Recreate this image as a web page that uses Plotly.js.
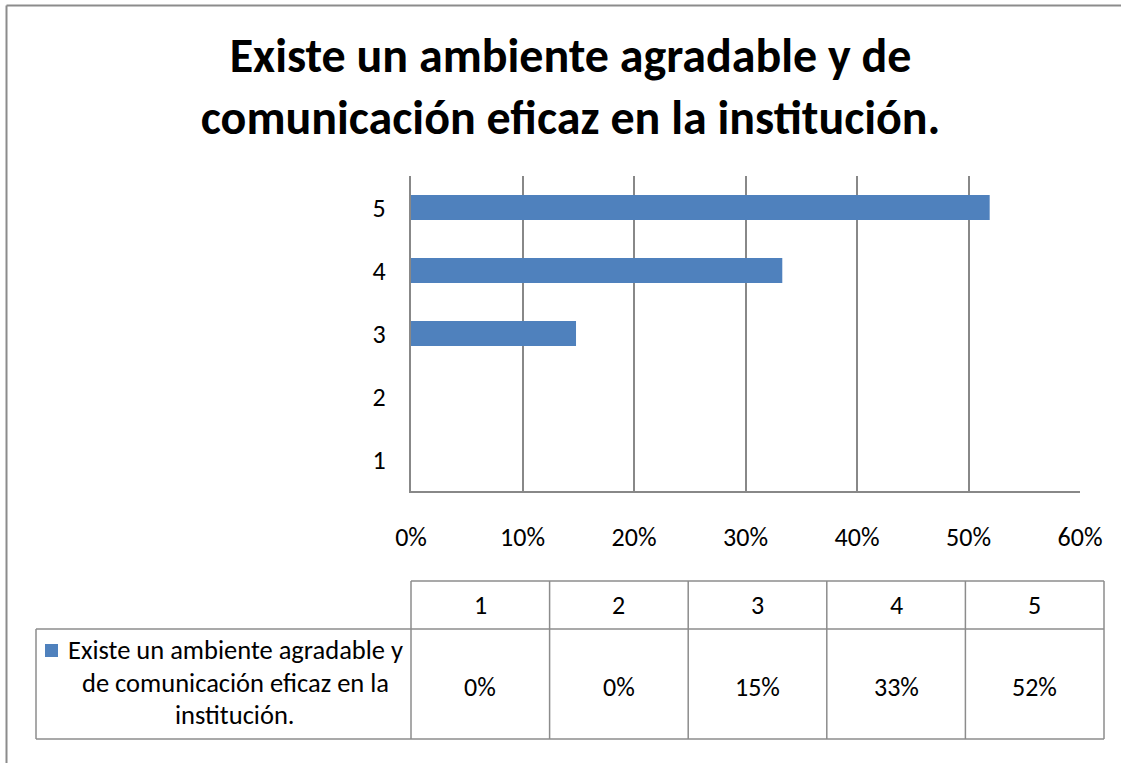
<!DOCTYPE html>
<html>
<head>
<meta charset="utf-8">
<script src="https://cdn.plot.ly/plotly-3.0.1.min.js"></script>
<style>
  html, body { margin: 0; padding: 0; background: #ffffff; }
  #chart { width: 1121px; height: 763px; }
</style>
</head>
<body>
<div id="chart"></div>
<script>
// ---- data ----
const categories = ['1', '2', '3', '4', '5'];
const values = [0, 0, 0.148, 0.333, 0.519];
const seriesName = 'Existe un ambiente agradable y de comunicación eficaz en la institución.';
const legendLines = ['Existe un ambiente agradable y', 'de comunicación eficaz en la', 'institución.'];
const chartTitle = 'Existe un ambiente agradable y de<br>comunicación eficaz en la institución.';
const xTickVals = [0, 0.1, 0.2, 0.3, 0.4, 0.5, 0.6];

// ---- layout helpers (pixel -> paper) ----
const W = 1121, H = 763;
const px = v => v / W;
const py = v => 1 - v / H;
const FONT = 'Carlito, Lato, "Open Sans", sans-serif';
const GRID = '#888888';
const BORDER = '#8c8c8c';
const BLUE = '#4F81BD';

const plotL = 411, plotR = 1080, plotT = 176, plotB = 491;
const tabL = 411, tabR = 1104, tabTop = 581, tabMid = 629, tabBot = 739, legL = 36;

const shapes = [];
const annotations = [];

// outer chart border (left and top visible)
shapes.push({type: 'line', xref: 'paper', yref: 'paper', x0: px(6.5), x1: px(1130), y0: py(5.5), y1: py(5.5), line: {color: BORDER, width: 2}});
shapes.push({type: 'line', xref: 'paper', yref: 'paper', x0: px(6.5), x1: px(6.5), y0: py(5.5), y1: py(770), line: {color: BORDER, width: 2}});

// data table
const colW = (tabR - tabL) / categories.length;
const tline = (x0, y0, x1, y1) => shapes.push({type: 'line', xref: 'paper', yref: 'paper', x0: px(x0), x1: px(x1), y0: py(y0), y1: py(y1), line: {color: BORDER, width: 1.5}});
tline(tabL, tabTop, tabR, tabTop);
tline(legL, tabMid, tabR, tabMid);
tline(legL, tabBot, tabR, tabBot);
tline(legL, tabMid, legL, tabBot);
for (let i = 0; i <= categories.length; i++) {
  const x = tabL + i * colW;
  tline(x, tabTop, x, tabBot);
}
categories.forEach((c, i) => {
  const cx = tabL + (i + 0.5) * colW;
  annotations.push({xref: 'paper', yref: 'paper', x: px(cx), y: py(605), text: c, showarrow: false,
    xanchor: 'center', yanchor: 'middle', font: {family: FONT, size: 26, color: '#000'}});
  annotations.push({xref: 'paper', yref: 'paper', x: px(cx), y: py(687), text: Math.round(values[i] * 100) + '%', showarrow: false,
    xanchor: 'center', yanchor: 'middle', font: {family: FONT, size: 26, color: '#000'}});
});

// legend key + series name in table
shapes.push({type: 'rect', xref: 'paper', yref: 'paper', x0: px(45), x1: px(58), y0: py(644), y1: py(657), fillcolor: BLUE, line: {width: 0}});
legendLines.forEach((t, i) => {
  annotations.push({xref: 'paper', yref: 'paper', x: px(235), y: py(650 + i * 32.5), text: t, showarrow: false,
    xanchor: 'center', yanchor: 'middle', font: {family: FONT, size: 26.5, color: '#000'}});
});

const trace = {
  type: 'bar',
  orientation: 'h',
  name: seriesName,
  y: categories,
  x: values,
  marker: {color: BLUE, line: {width: 0}},
  hoverinfo: 'skip'
};

const layout = {
  width: W, height: H,
  margin: {l: 0, r: 0, t: 0, b: 0},
  paper_bgcolor: '#ffffff',
  plot_bgcolor: '#ffffff',
  showlegend: false,
  bargap: 0.6,
  title: {
    text: chartTitle,
    x: 0.509, xanchor: 'center',
    y: py(72), yanchor: 'top',
    font: {family: FONT, size: 48, color: '#000', weight: 'bold'}
  },
  xaxis: {
    domain: [px(plotL), px(plotR)],
    range: [0, 0.6],
    tickvals: xTickVals,
    tickformat: '.0%',
    showgrid: true, gridcolor: GRID, gridwidth: 2,
    showline: true, linecolor: GRID, linewidth: 2,
    zeroline: false,
    ticks: '',
    ticklabelstandoff: 22,
    tickfont: {family: FONT, size: 26, color: '#000'},
    fixedrange: true
  },
  yaxis: {
    domain: [py(plotB), py(plotT)],
    type: 'category',
    categoryorder: 'array', categoryarray: categories,
    range: [-0.5, 4.5],
    showgrid: false,
    showline: true, linecolor: GRID, linewidth: 2,
    zeroline: false,
    ticks: '',
    ticklabelstandoff: 18,
    tickfont: {family: FONT, size: 26, color: '#000'},
    fixedrange: true
  },
  shapes: shapes,
  annotations: annotations
};

Plotly.newPlot('chart', [trace], layout, {staticPlot: true, displayModeBar: false});
</script>
</body>
</html>
